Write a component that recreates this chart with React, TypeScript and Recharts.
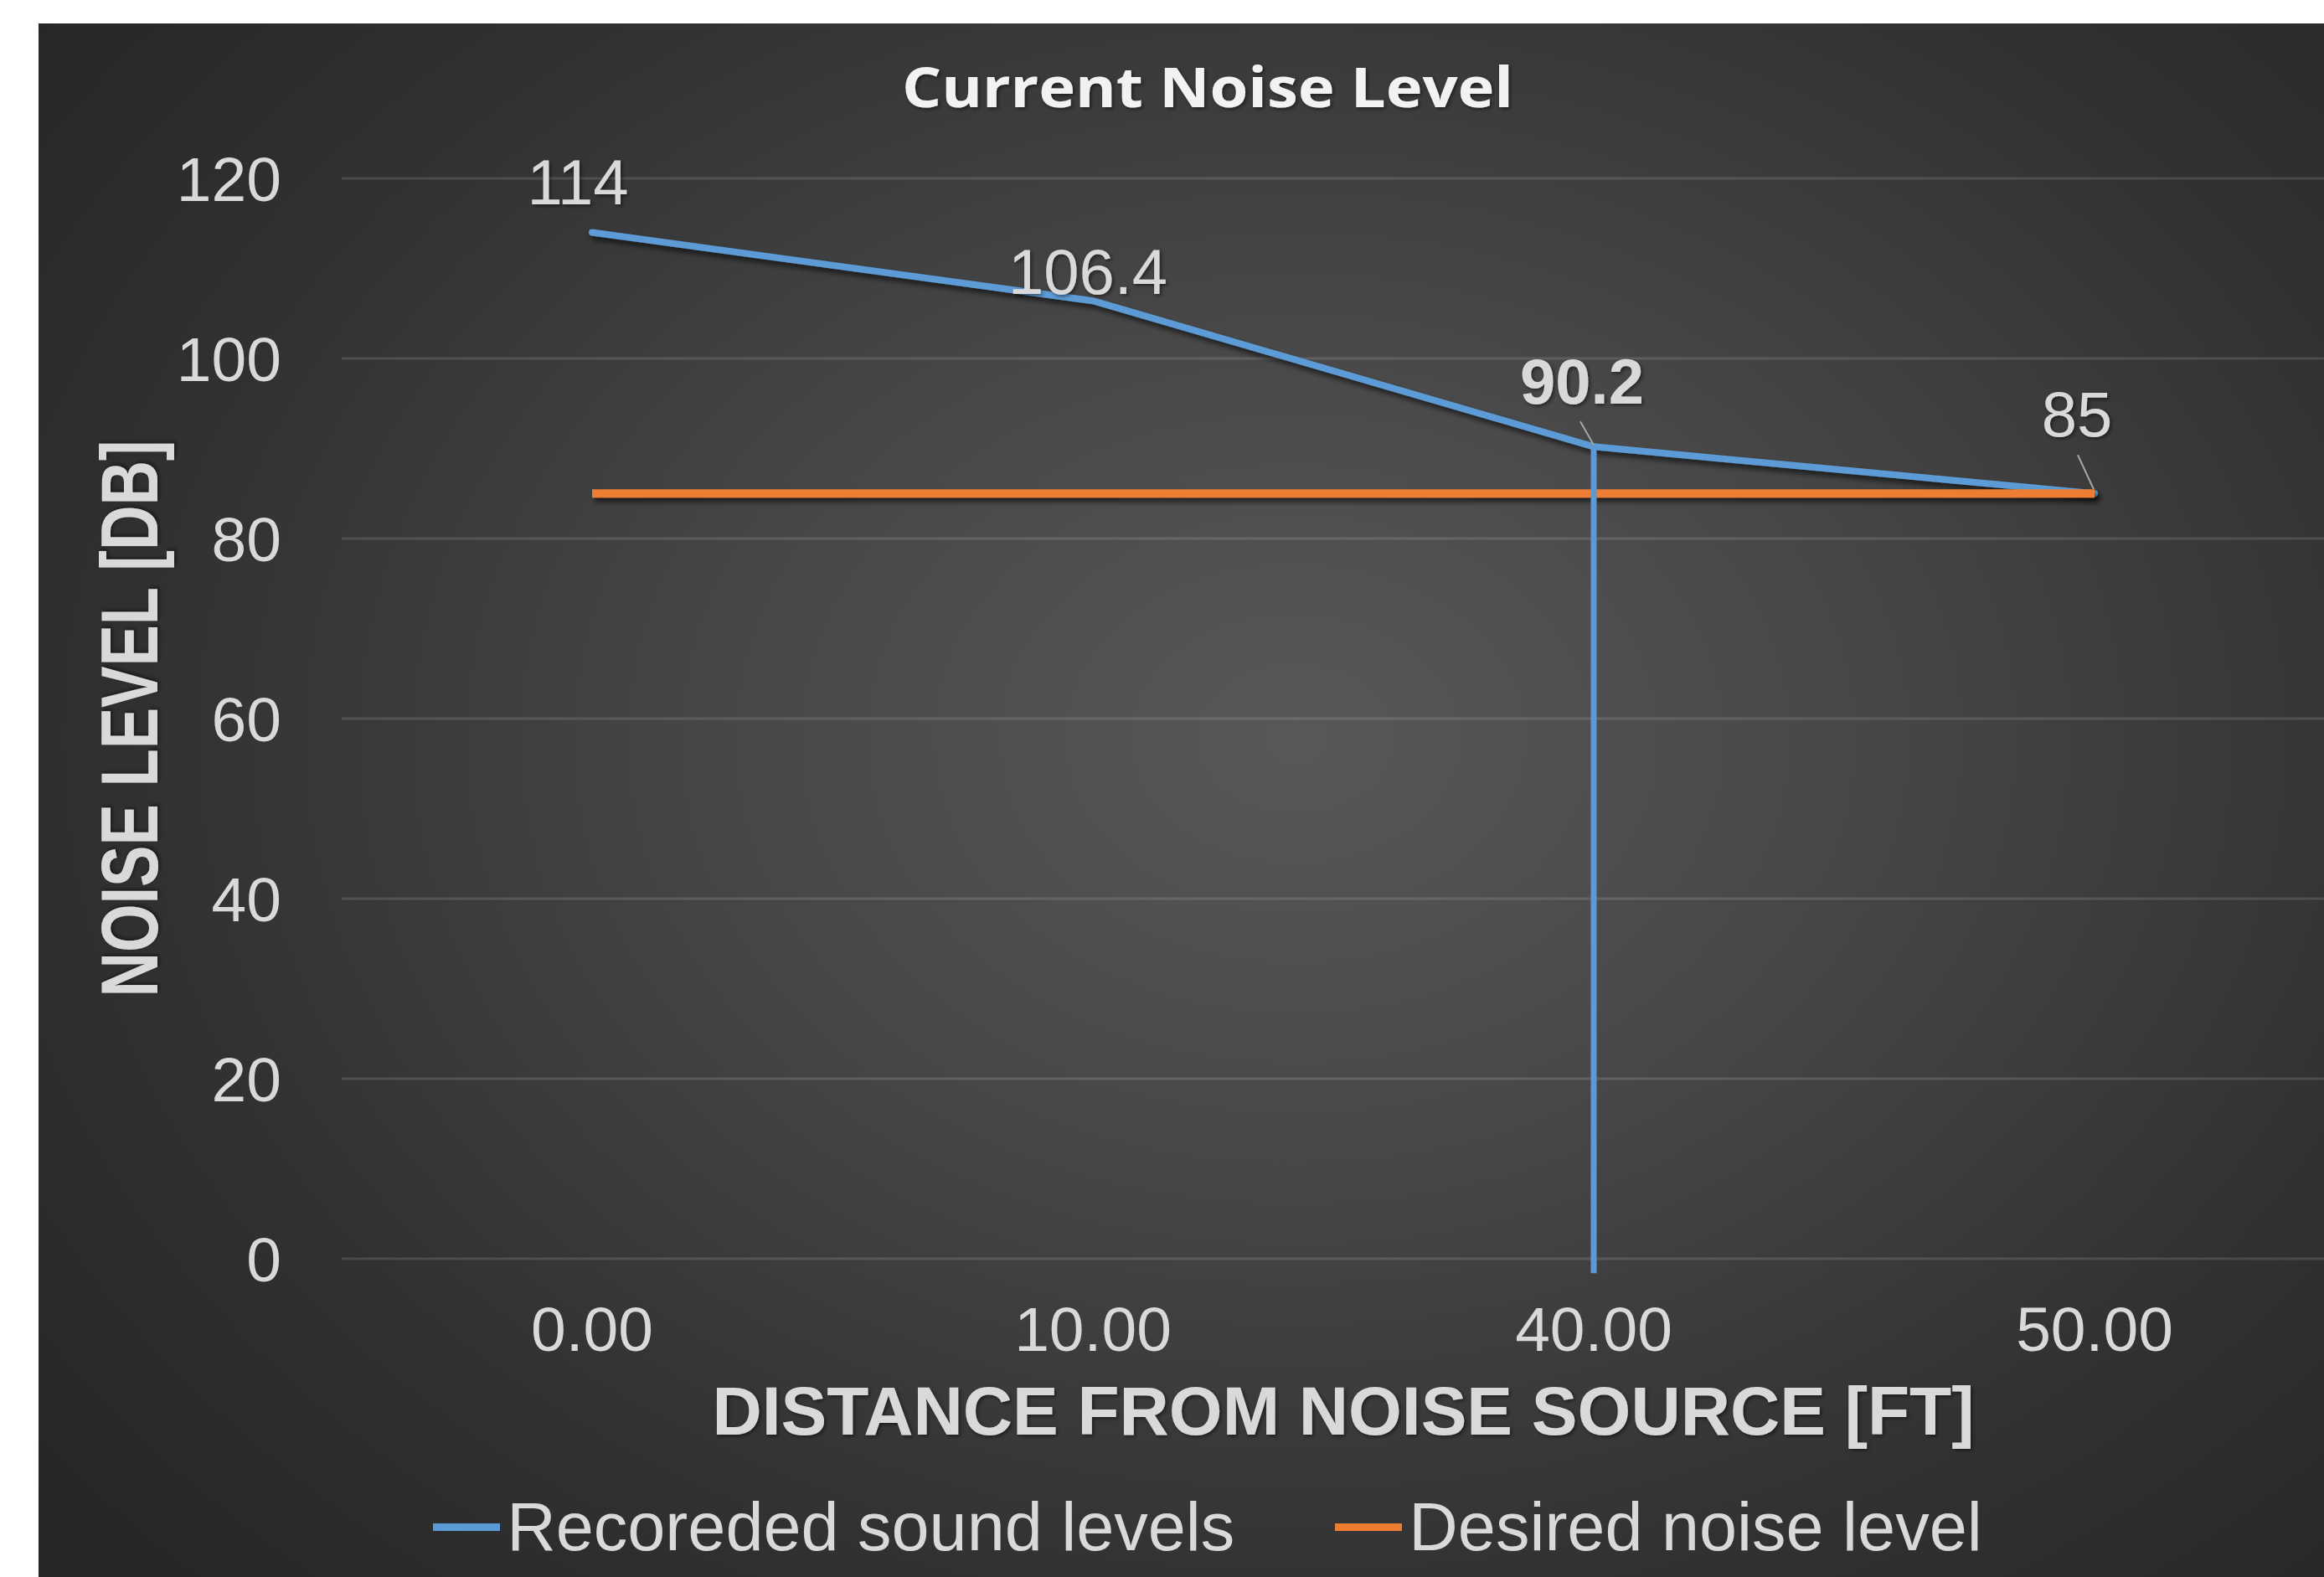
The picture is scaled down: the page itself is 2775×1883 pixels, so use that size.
import React from 'react';
import { LineChart, Line, XAxis, YAxis, CartesianGrid, Legend, ReferenceLine, LabelList, Label } from 'recharts';

const distances = ['0.00', '10.00', '40.00', '50.00'];
const recordedLevels = [114, 106.4, 90.2, 85];
const desiredLevels = [85, 85, 85, 85];
const yTicks = [0, 20, 40, 60, 80, 100, 120];
// the drop line at 40 ft runs a little past zero
const dropLine = { at: '40.00', from: 90.2, to: -1.6 };
const seriesOrder = ['recorded', 'desired'];

const data = distances.map((d, i) => ({
  distance: d,
  recorded: recordedLevels[i],
  desired: desiredLevels[i],
}));

const BLUE = '#5b9bd5';
const ORANGE = '#ed7d31';
const TEXT = '#d9d9d9';
const FONT = '"Liberation Sans", Arial, sans-serif';

// where each data label sits relative to its point (hand placed in the original)
const labelSpots: { dx: number; dy: number; bold?: boolean; leader?: number[] }[] = [
  { dx: -17, dy: -60 },
  { dx: -6, dy: -35 },
  { dx: -14, dy: -78, bold: true, leader: [-16, -30, 0, -2] },
  { dx: -21, dy: -95, leader: [-20, -46, -1, -5] },
];

const renderPointLabel = (props: any) => {
  const { x, y, value, index } = props;
  const spot = labelSpots[index];
  if (!spot) return null;
  return (
    <g key={`lbl-${index}`}>
      {spot.leader && (
        <line
          x1={x + spot.leader[0]}
          y1={y + spot.leader[1]}
          x2={x + spot.leader[2]}
          y2={y + spot.leader[3]}
          stroke="#a6a6a6"
          strokeWidth={2}
        />
      )}
      <text
        x={x + spot.dx}
        y={y + spot.dy}
        dy="0.355em"
        textAnchor="middle"
        fill={TEXT}
        fontSize={76}
        fontFamily={FONT}
        fontWeight={spot.bold ? 700 : 400}
        filter="url(#txtShadow)"
      >
        {value}
      </text>
    </g>
  );
};

const renderXTitle = (props: any) => {
  const { x, y, width } = props.viewBox;
  return (
    <text
      x={x + width / 2}
      y={y + 210}
      textAnchor="middle"
      fill={TEXT}
      fontSize={81}
      fontWeight={700}
      fontFamily={FONT}
      textLength={1507}
      lengthAdjust="spacingAndGlyphs"
      filter="url(#txtShadow)"
    >
      DISTANCE FROM NOISE SOURCE [FT]
    </text>
  );
};

const renderYTitle = (props: any) => {
  const { x, y, height } = props.viewBox;
  const cx = x + 188;
  const cy = y + height / 2;
  return (
    <text
      x={cx}
      y={cy}
      transform={`rotate(-90, ${cx}, ${cy})`}
      textAnchor="middle"
      fill={TEXT}
      fontSize={96}
      fontWeight={700}
      fontFamily={FONT}
      textLength={665}
      lengthAdjust="spacingAndGlyphs"
      filter="url(#txtShadow)"
    >
      NOISE LEVEL [DB]
    </text>
  );
};

const renderLegend = (props: any) => {
  const { payload } = props;
  return (
    <div
      style={{
        height: 90,
        display: 'flex',
        justifyContent: 'center',
        alignItems: 'center',
        gap: 120,
        fontFamily: FONT,
        fontSize: 81,
        color: TEXT,
      }}
    >
      {(payload || []).map((entry: any) => (
        <div key={entry.value} style={{ display: 'flex', alignItems: 'center' }}>
          <span style={{ display: 'inline-block', width: 80, height: 9, background: entry.color, marginRight: 8 }} />
          <span style={{ lineHeight: '90px' }}>{entry.value}</span>
        </div>
      ))}
    </div>
  );
};

export default function App() {
  return (
    <div
      style={{
        position: 'absolute',
        left: 0,
        top: 0,
        width: 2775,
        height: 1883,
        overflow: 'hidden',
        background: '#ffffff',
      }}
    >
      <div
        style={{
          position: 'absolute',
          left: 46,
          top: 28,
          right: 0,
          bottom: 0,
          background:
            'radial-gradient(ellipse 70% 78% at 55% 46%, #585858 0%, #474747 35%, #313131 72%, #262626 100%)',
        }}
      />
      <svg width={2775} height={1883} style={{ position: 'absolute', left: 0, top: 0 }}>
        <defs>
          <filter id="lineShadow" filterUnits="userSpaceOnUse" x={0} y={0} width={3000} height={1900}>
            <feDropShadow dx={3} dy={5} stdDeviation={3} floodColor="#000" floodOpacity={0.6} />
          </filter>
          <filter id="txtShadow" x="-10%" y="-10%" width="120%" height="140%">
            <feDropShadow dx={2} dy={2} stdDeviation={2} floodColor="#000" floodOpacity={0.5} />
          </filter>
        </defs>
        <text
          x={1442}
          y={128}
          textAnchor="middle"
          fill="#f2f2f2"
          fontSize={67}
          fontWeight={700}
          fontFamily='"Open Sans", sans-serif'
          textLength={730}
          lengthAdjust="spacingAndGlyphs"
          filter="url(#txtShadow)"
        >
          Current Noise Level
        </text>
      </svg>
      <div style={{ position: 'absolute', left: 0, top: 0 }}>
        <LineChart width={2900} height={1883} data={data} margin={{ top: 213, right: 100, bottom: 320, left: 0 }}>
          <CartesianGrid vertical={false} stroke="#ffffff" strokeOpacity={0.13} strokeWidth={3} />
          <XAxis
            dataKey="distance"
            scale="band"
            height={60}
            interval={0}
            tickSize={0}
            tickMargin={57}
            axisLine={false}
            tickLine={false}
            tick={{ fill: TEXT, fontSize: 75, fontFamily: FONT }}
          >
            <Label content={renderXTitle} />
          </XAxis>
          <YAxis
            domain={[0, 120]}
            ticks={yTicks}
            interval={0}
            width={408}
            tickSize={0}
            tickMargin={72}
            axisLine={false}
            tickLine={false}
            tick={{ fill: TEXT, fontSize: 75, fontFamily: FONT }}
          >
            <Label content={renderYTitle} />
          </YAxis>
          <Legend
            layout="horizontal"
            verticalAlign="middle"
            align="center"
            itemSorter={(item: any) => seriesOrder.indexOf(item.dataKey)}
            content={renderLegend}
            wrapperStyle={{ top: 1778, left: 0, width: 2884, height: 90 }}
          />
          <Line
            name="Recoreded sound levels"
            dataKey="recorded"
            stroke={BLUE}
            strokeWidth={8}
            strokeLinecap="round"
            strokeLinejoin="round"
            dot={false}
            activeDot={false}
            isAnimationActive={false}
            filter="url(#lineShadow)"
          >
            <LabelList dataKey="recorded" content={renderPointLabel} />
          </Line>
          <Line
            name="Desired noise level"
            dataKey="desired"
            stroke={ORANGE}
            strokeWidth={10}
            dot={false}
            activeDot={false}
            isAnimationActive={false}
            filter="url(#lineShadow)"
          />
          <ReferenceLine
            segment={[
              { x: dropLine.at, y: dropLine.from },
              { x: dropLine.at, y: dropLine.to },
            ]}
            stroke={BLUE}
            strokeWidth={7}
            ifOverflow="visible"
          />
        </LineChart>
      </div>
    </div>
  );
}
